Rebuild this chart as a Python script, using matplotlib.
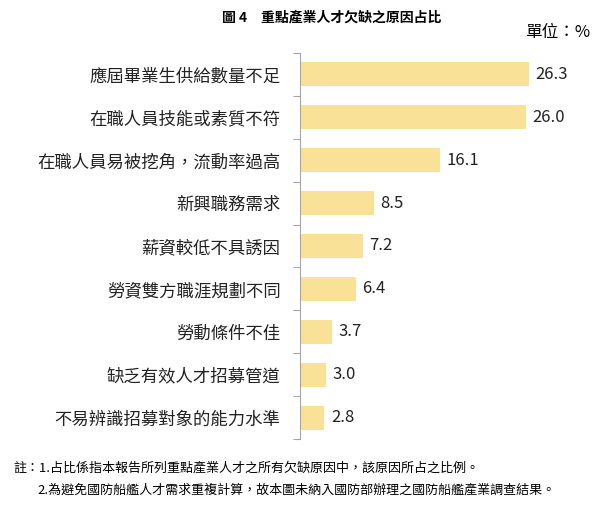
import matplotlib
matplotlib.use("Agg")
import matplotlib.pyplot as plt

plt.rcParams['font.family'] = ['Noto Sans CJK TC', 'DejaVu Sans']

# Data
reasons = [
    '應屆畢業生供給數量不足',
    '在職人員技能或素質不符',
    '在職人員易被挖角，流動率過高',
    '新興職務需求',
    '薪資較低不具誘因',
    '勞資雙方職涯規劃不同',
    '勞動條件不佳',
    '缺乏有效人才招募管道',
    '不易辨識招募對象的能力水準',
]
shares = [26.3, 26.0, 16.1, 8.5, 7.2, 6.4, 3.7, 3.0, 2.8]

title = '圖 4　重點產業人才欠缺之原因占比'
unit = '單位：%'
notes = [
    '註：1.占比係指本報告所列重點產業人才之所有欠缺原因中，該原因所占之比例。',
    '2.為避免國防船艦人才需求重複計算，故本圖未納入國防部辦理之國防船艦產業調查結果。',
]

fig = plt.figure(figsize=(6, 5.16), dpi=100)
ax = fig.add_axes([300 / 600, 1 - 439 / 516, 300 / 600, 386 / 516])

n = len(reasons)
ypos = list(range(n))
ax.barh(ypos, shares, height=0.56, color='#F9E198', edgecolor='none')

for y, v in zip(ypos, shares):
    ax.text(v + 0.75, y, f'{v:.1f}', va='center', ha='left', fontsize=12, color='#222222')

ax.set_ylim(n - 0.5, -0.5)
ax.set_xlim(0, 300 / 8.7)
ax.set_yticks(ypos)
ax.set_yticklabels(reasons, fontsize=12.5, color='#222222')
ax.tick_params(axis='y', length=0, pad=14)
ax.set_yticks([i - 0.5 for i in range(n + 1)], minor=True)
ax.tick_params(axis='y', which='minor', length=5, color='#A6A6A6', width=0.8)
ax.set_xticks([])
for s in ['top', 'right', 'bottom']:
    ax.spines[s].set_visible(False)
ax.spines['left'].set_color('#A6A6A6')
ax.spines['left'].set_linewidth(0.8)

fig.text(332 / 600, 1 - 17 / 516, title, ha='center', va='center', fontsize=10, fontweight='bold')
fig.text(590 / 600, 1 - 33 / 516, unit, ha='right', va='center', fontsize=12)
fig.text(13 / 600, 1 - 468 / 516, notes[0], ha='left', va='center', fontsize=9.4)
fig.text(37 / 600, 1 - 490 / 516, notes[1], ha='left', va='center', fontsize=9.4)

fig.savefig('out.png', dpi=100, facecolor='white')
